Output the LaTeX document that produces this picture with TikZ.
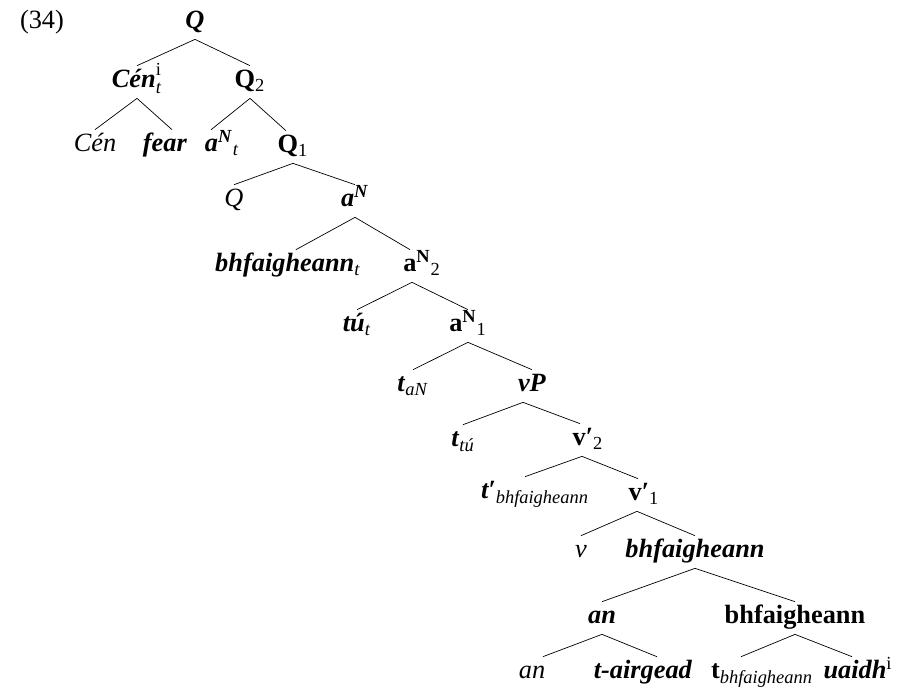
\documentclass[tikz,border=0pt]{standalone}
\usepackage{amsmath}
\usepackage{fontspec}
\setmainfont{Liberation Serif}

\begin{document}
\begin{tikzpicture}[x=0.02cm,y=-0.02cm,
  word/.style={anchor=base,inner sep=1.5pt,text height=11pt,text depth=4.2pt,
    font=\fontsize{15}{18}\selectfont}]
\useasboundingbox (0,0) rectangle (897,688);
\node[word] (ex) at (42,29){(34)};
% top of the tree
\node[word] (qtop) at (195,29){\textbf{\textit{Q}}};
\node[word] (cent) at (137,88){\textbf{\textit{Cén}}\rlap{\raisebox{2pt}{\textsuperscript{i}}}\raisebox{-1pt}{\textsubscript{\textit{t}}}};
\node[word] (qtwo) at (250,88){\textbf{Q}\textsubscript{2}};
\node[word] (cen) at (95,152){\textit{Cén}};
\node[word] (fear) at (165,152){\textbf{\textit{fear}}};
\node[word] (ant) at (222,152){\textbf{\textit{a}}\textsuperscript{\textbf{\textit{N}}}\textsubscript{\textit{t}}};
\node[word] (qone) at (293,153){\textbf{Q}\textsubscript{1}};
\node[word] (qit) at (234,207){\textit{Q}};
\node[word] (an) at (355,207){\textbf{\textit{a}}\textsuperscript{\textbf{\textit{N}}}};
\node[word] (bhft) at (288,272){\textbf{\textit{bhfaigheann}}\textsubscript{\textit{t}}};
\node[word] (antwo) at (422,272){\textbf{a}\textsuperscript{\textbf{N}}\textsubscript{2}};
\node[word] (tut) at (357,332){\textbf{\textit{tú}}\textsubscript{\textit{t}}};
\node[word] (anone) at (468,332){\textbf{a}\textsuperscript{\textbf{N}}\textsubscript{1}};
\node[word] (tan) at (413,392){\textbf{\textit{t}}\textsubscript{\textit{aN}}};
\node[word] (vp) at (532,392){\textbf{\textit{vP}}};
\node[word] (ttu) at (463,447){\textbf{\textit{t}}\textsubscript{\textit{tú}}};
\node[word] (vtwo) at (588,446){\textbf{v′}\textsubscript{2}};
\node[word] (tpbh) at (535,499){\textbf{\textit{t′}}\textsubscript{\textit{bhfaigheann}}};
\node[word] (vone) at (644,501){\textbf{v′}\textsubscript{1}};
\node[word] (vit) at (581,558){\textit{v}};
\node[word] (bhfbi) at (695,558){\textbf{\textit{bhfaigheann}}};
\node[word] (anbi) at (602,624){\textbf{\textit{an}}};
\node[word] (bhfb) at (795,624){\textbf{bhfaigheann}};
\node[word] (anit) at (532,679){\textit{an}};
\node[word] (tairg) at (643,679){\textbf{\textit{t-airgead}}};
\node[word] (tbh) at (762,679){\textbf{t}\textsubscript{\textit{bhfaigheann}}};
\node[word] (uaidh) at (858,679){\textbf{\textit{uaidh}}\textsuperscript{i}};
% branches
\draw (qtop.south)--(cent.north);
\draw (qtop.south)--(qtwo.north);
\draw (cent.south)--(cen.north);
\draw (cent.south)--([xshift=4pt]fear.north);
\draw (qtwo.south)--([xshift=-6.2pt]ant.north);
\draw (qtwo.south)--([xshift=-4pt]qone.north);
\draw (qone.south)--(qit.north);
\draw (qone.south)--(an.north);
\draw (an.south)--([xshift=4.5pt]bhft.north);
\draw (an.south)--([xshift=-6.8pt]antwo.north);
\draw ([xshift=-5.7pt]antwo.south)--(tut.north);
\draw ([xshift=-5.7pt]antwo.south)--(anone.north);
\draw (anone.south)--(tan.north);
\draw (anone.south)--(vp.north);
\draw ([xshift=-5.1pt]vp.south)--(ttu.north);
\draw ([xshift=-5.1pt]vp.south)--([xshift=-4.5pt]vtwo.north);
\draw ([xshift=-3.4pt]vtwo.south)--([xshift=-5.7pt]tpbh.north);
\draw ([xshift=-3.4pt]vtwo.south)--([xshift=-3.4pt]vone.north);
\draw ([xshift=-4pt]vone.south)--(vit.north);
\draw ([xshift=-4pt]vone.south)--(bhfbi.north);
\draw (bhfbi.south)--(anbi.north);
\draw (bhfbi.south)--(bhfb.north);
\draw (anbi.south)--([xshift=6.2pt]anit.north);
\draw (anbi.south)--([xshift=7.9pt]tairg.north);
\draw (bhfb.south)--([xshift=-11.9pt]tbh.north);
\draw (bhfb.south)--([xshift=-3.4pt]uaidh.north);
\end{tikzpicture}
\end{document}
